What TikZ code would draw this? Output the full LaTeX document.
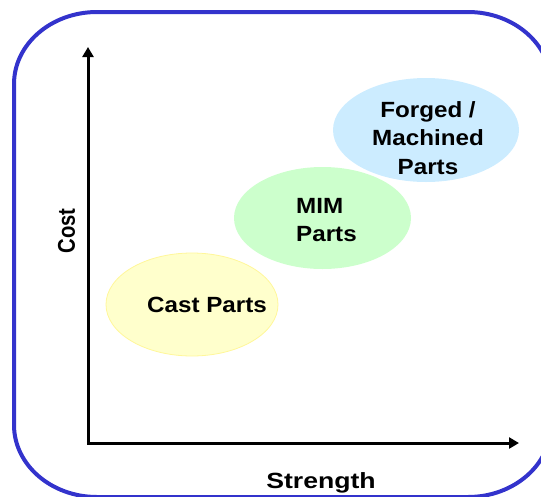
\documentclass[tikz,border=0pt]{standalone}
\usepackage{fontspec}
\setmainfont{Liberation Sans}
\usetikzlibrary{shapes.geometric,arrows.meta}

\definecolor{frameblue}{HTML}{3333CC}
\definecolor{castfill}{HTML}{FFFFCC}
\definecolor{castline}{HTML}{FFF79A}
\definecolor{mimfill}{HTML}{CCFFCC}
\definecolor{forgefill}{HTML}{CCECFF}

\tikzset{
  blob/.style={ellipse, inner sep=0pt},
  lbl/.style={font=\fontsize{22}{28.5}\selectfont\bfseries, inner sep=0pt, xscale=1.1},
  axis/.style={line width=3pt, line join=miter,
    {Triangle[length=10pt,width=11pt]}-{Triangle[length=10pt,width=11pt]}},
}

\begin{document}
\begin{tikzpicture}[x=1pt, y=-1pt]
\useasboundingbox (0,0) rectangle (541,496);

% rounded frame, running past the right and bottom edges
\begin{scope}
\clip (0,0) rectangle (541,496);
\draw[frameblue, line width=4pt]
  (14,425) -- (14,84)
  arc[start angle=180, end angle=270, x radius=83, y radius=72]
  -- (468,12)
  arc[start angle=270, end angle=360, x radius=83, y radius=72]
  -- (551,425)
  arc[start angle=0, end angle=90, x radius=83, y radius=72]
  -- (97,497)
  arc[start angle=90, end angle=180, x radius=83, y radius=72]
  -- cycle;
\end{scope}

% regions
\node[blob, fill=castfill, draw=castline, line width=0.8pt,
      minimum width=172pt, minimum height=103pt] (cast) at (192,304.5) {};
\node[blob, fill=forgefill, minimum width=186pt, minimum height=104pt] (forged) at (426,130) {};
\node[blob, fill=mimfill, minimum width=177pt, minimum height=102pt] (mim) at (322.5,218) {};

\node[lbl, anchor=base] (castlbl) at (207,312) {Cast Parts};
\node[lbl, align=left, anchor=north west] (mimlbl) at (296,198) {MIM\\Parts};
\node[lbl, align=center, anchor=north] (forgedlbl) at (428,101) {Forged /\\Machined\\Parts};

% axes
\coordinate (ytip) at (88,47);
\coordinate (origin) at (88,443);
\coordinate (xtip) at (519,443);
\draw[axis] (ytip) -- (origin) -- (xtip);

\node[lbl, xscale=1, rotate=90, anchor=center] (cost) at (66.5,231) {\scalebox{0.92}[1]{Cost}};
\node[lbl, xscale=1.1, anchor=base] (strength) at (321,488) {Strength};
\end{tikzpicture}
\end{document}
